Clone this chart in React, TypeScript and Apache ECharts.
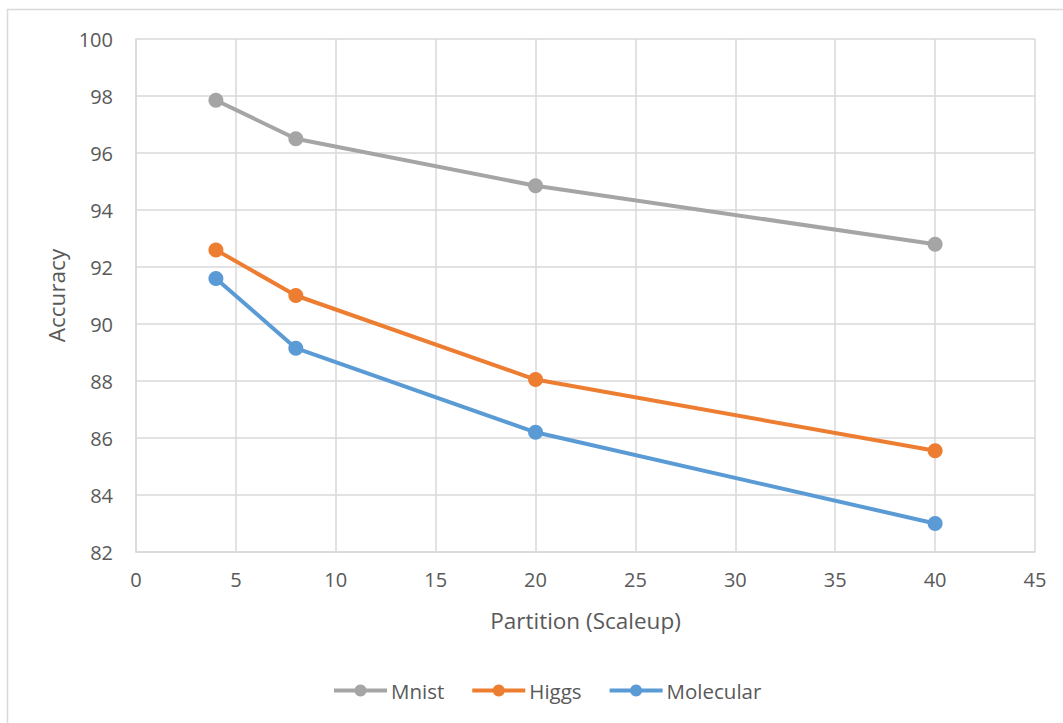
import React, { useEffect, useRef } from "react";
import * as echarts from "echarts";

// Partition counts (scaleup) and accuracy per dataset
const partitions = [4, 8, 20, 40];
const mnist = [97.85, 96.5, 94.85, 92.8];
const higgs = [92.6, 91.0, 88.05, 85.55];
const molecular = [91.6, 89.15, 86.2, 83.0];

const seriesNames = ["Mnist", "Higgs", "Molecular"];
const seriesColors = ["#A5A5A5", "#ED7D31", "#5B9BD5"];

const FONT = "'Open Sans', 'Noto Sans', sans-serif";
const TEXT = "#595959";
const GRID = "#D9D9D9";

export default function App() {
  const ref = useRef<HTMLDivElement>(null);

  useEffect(() => {
    if (!ref.current) return;
    const chart = echarts.init(ref.current, undefined, { renderer: "svg" });
    const datasets = [mnist, higgs, molecular];
    chart.setOption({
      animation: false,
      backgroundColor: "#FFFFFF",
      textStyle: { fontFamily: FONT },
      graphic: [
        {
          type: "rect",
          shape: { x: 7.5, y: 9.5, width: 1100, height: 800 },
          style: { fill: "none", stroke: GRID, lineWidth: 1.5 },
          silent: true,
        },
      ],
      grid: { left: 136, right: 28, top: 39, bottom: 171, containLabel: false },
      legend: {
        top: 680,
        left: 332,
        padding: 0,
        itemWidth: 53,
        itemHeight: 15,
        itemGap: 26,
        lineStyle: { width: 4 },
        textStyle: { color: TEXT, fontSize: 20.5, fontFamily: FONT, padding: [0, 0, 0, -1] },
        data: seriesNames,
      },
      xAxis: {
        type: "value",
        min: 0,
        max: 45,
        interval: 5,
        name: "Partition (Scaleup)",
        nameLocation: "middle",
        nameGap: 57,
        nameTextStyle: { color: TEXT, fontSize: 22.5, fontFamily: FONT },
        axisLine: { show: true, lineStyle: { color: GRID, width: 1.5 } },
        axisTick: { show: false },
        axisLabel: { color: TEXT, fontSize: 20, margin: 17, fontFamily: FONT },
        splitLine: { show: true, lineStyle: { color: GRID, width: 1.5 } },
      },
      yAxis: {
        type: "value",
        min: 82,
        max: 100,
        interval: 2,
        name: "Accuracy",
        nameLocation: "middle",
        nameGap: 66,
        nameTextStyle: { color: TEXT, fontSize: 22.5, fontFamily: FONT },
        axisLine: { show: true, lineStyle: { color: GRID, width: 1.5 } },
        axisTick: { show: false },
        axisLabel: { color: TEXT, fontSize: 20, margin: 23, fontFamily: FONT },
        splitLine: { show: true, lineStyle: { color: GRID, width: 1.5 } },
      },
      series: seriesNames.map((name, i) => ({
        name,
        type: "line",
        data: partitions.map((p, j) => [p, datasets[i][j]]),
        symbol: "circle",
        symbolSize: 15,
        color: seriesColors[i],
        lineStyle: { color: seriesColors[i], width: 4 },
        itemStyle: { color: seriesColors[i] },
      })),
    });
    return () => chart.dispose();
  }, []);

  return (
    <div
      ref={ref}
      style={{ position: "fixed", left: 0, top: 0, width: 1063, height: 723 }}
    />
  );
}
